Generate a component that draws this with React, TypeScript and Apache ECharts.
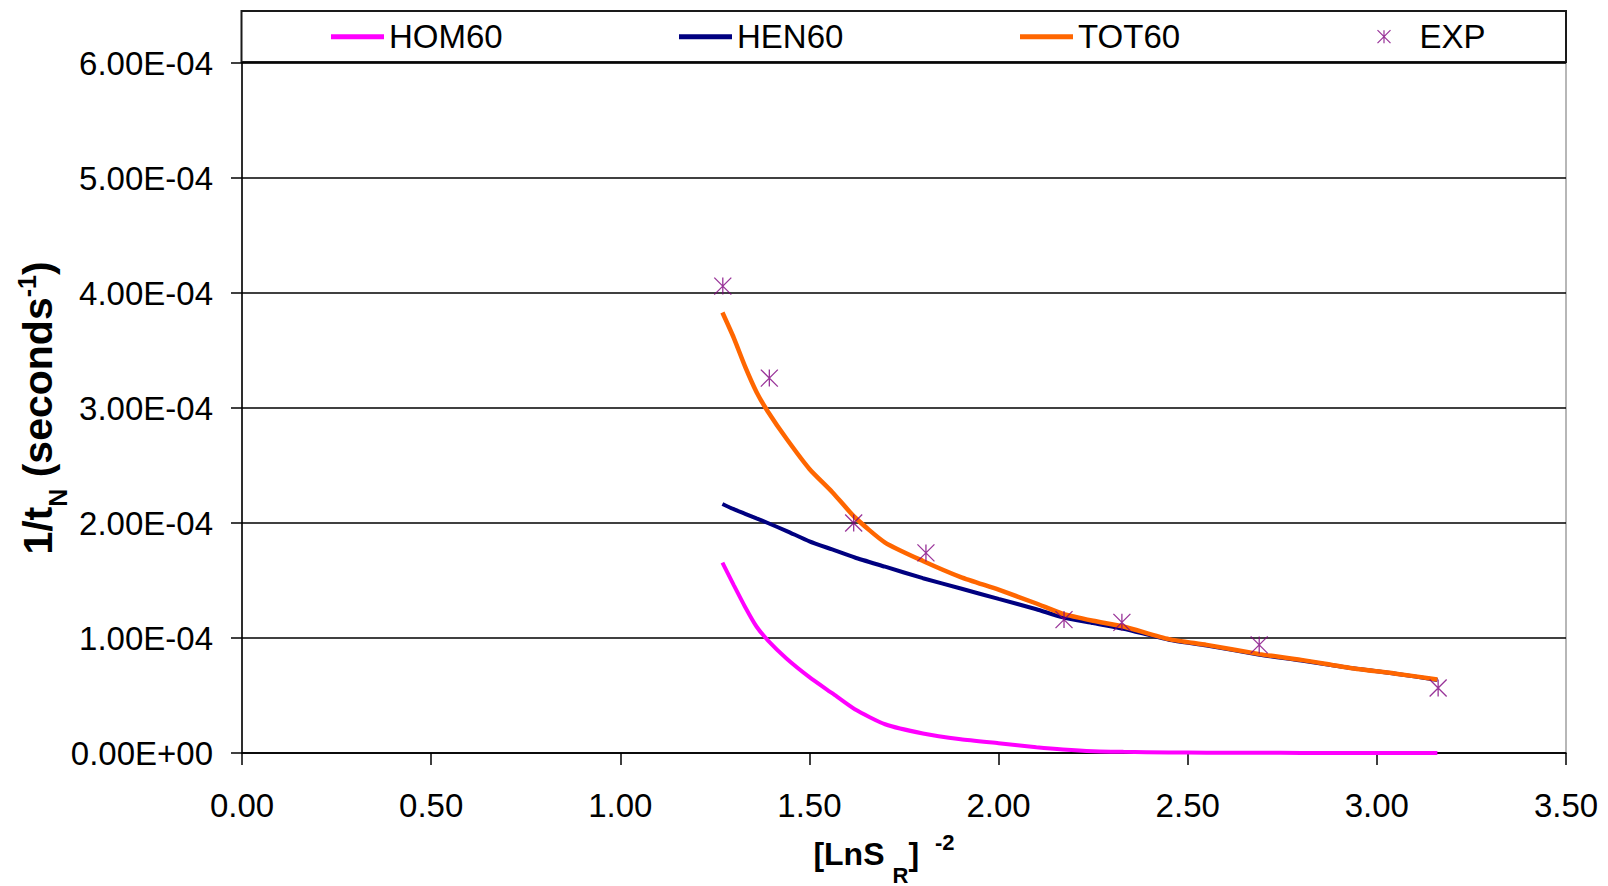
import React, { useEffect, useRef } from 'react';
import * as echarts from 'echarts';

const FONT = '"Liberation Sans", Arial, Helvetica, sans-serif';

// Model curves: x = [LnS_R]^-2, y = 1/t_N (s^-1)
const xModel = [1.27, 1.30, 1.33, 1.36, 1.39, 1.44, 1.50, 1.56, 1.62, 1.70, 1.80, 1.90, 2.00, 2.10, 2.17, 2.25, 2.33, 2.45, 2.55, 2.69, 2.80, 2.93, 3.05, 3.16];
const hom60 = [1.655e-4, 1.46e-4, 1.27e-4, 1.10e-4, 0.98e-4, 0.82e-4, 0.66e-4, 0.52e-4, 0.38e-4, 0.25e-4, 0.17e-4, 0.12e-4, 0.085e-4, 0.05e-4, 0.03e-4, 0.015e-4, 0.01e-4, 0.005e-4, 0.003e-4, 0.002e-4, 0.001e-4, 0.0005e-4, 0.0003e-4, 0.0002e-4];
const hen60 = [2.165e-4, 2.12e-4, 2.08e-4, 2.04e-4, 2.00e-4, 1.93e-4, 1.84e-4, 1.77e-4, 1.70e-4, 1.62e-4, 1.52e-4, 1.43e-4, 1.34e-4, 1.25e-4, 1.18e-4, 1.13e-4, 1.08e-4, 0.985e-4, 0.935e-4, 0.855e-4, 0.805e-4, 0.74e-4, 0.69e-4, 0.635e-4];
const tot60 = [3.83e-4, 3.61e-4, 3.36e-4, 3.14e-4, 2.97e-4, 2.73e-4, 2.47e-4, 2.27e-4, 2.05e-4, 1.83e-4, 1.67e-4, 1.53e-4, 1.42e-4, 1.30e-4, 1.21e-4, 1.15e-4, 1.10e-4, 0.99e-4, 0.94e-4, 0.86e-4, 0.81e-4, 0.74e-4, 0.69e-4, 0.64e-4];

// Experimental points
const xExp = [1.271, 1.394, 1.617, 1.808, 2.173, 2.326, 2.689, 3.162];
const yExp = [4.06e-4, 3.26e-4, 2.00e-4, 1.74e-4, 1.16e-4, 1.136e-4, 0.94e-4, 0.565e-4];

const seriesNames = ['HOM60', 'HEN60', 'TOT60', 'EXP'];
const seriesColors = ['#FF00FF', '#000080', '#FF6600', '#800080'];

const STAR = 'path://M0 0L10 10M10 0L0 10M5 0L5 10';

function sci(v: number): string {
  const [m, e] = v.toExponential(2).split('e');
  const n = parseInt(e, 10);
  return m + 'E' + (n < 0 ? '-' : '+') + String(Math.abs(n)).padStart(2, '0');
}

export default function App() {
  const ref = useRef<HTMLDivElement>(null);
  useEffect(() => {
    if (!ref.current) return;
    const chart = echarts.init(ref.current, undefined, { renderer: 'svg' });
    const pair = (ys: number[]) => xModel.map((x, i) => [x, ys[i]]);
    const legendText = { fontSize: 33, color: '#000', fontFamily: FONT, lineHeight: 34 };
    const lineLegend = (name: string, left: number, color: string) => ({
      data: [{ name, icon: 'rect', itemStyle: { color } }],
      left,
      top: 19.7,
      padding: 0,
      itemWidth: 53,
      itemHeight: 5,
      selectedMode: false,
      textStyle: legendText,
    });
    const option: any = {
      animation: false,
      backgroundColor: '#ffffff',
      textStyle: { fontFamily: FONT },
      grid: {
        left: 242,
        top: 63,
        width: 1324,
        height: 690,
        containLabel: false,
        outerBoundsMode: 'none',
        show: true,
        borderColor: '#a0a0a0',
        borderWidth: 1.5,
        backgroundColor: 'transparent',
      },
      graphic: [
        {
          type: 'rect',
          shape: { x: 241.5, y: 11, width: 1324.5, height: 51 },
          style: { fill: 'none', stroke: '#1a1a1a', lineWidth: 2 },
          silent: true,
        },
      ],
      legend: [
        lineLegend(seriesNames[0], 331, seriesColors[0]),
        lineLegend(seriesNames[1], 679, seriesColors[1]),
        lineLegend(seriesNames[2], 1020, seriesColors[2]),
        {
          data: [
            {
              name: seriesNames[3],
              icon: STAR,
              itemStyle: { color: 'none', borderColor: seriesColors[3], borderWidth: 1.2 },
            },
          ],
          left: 1375,
          top: 19.7,
          padding: 0,
          itemWidth: 13,
          itemHeight: 18,
          selectedMode: false,
          textStyle: { ...legendText, padding: [0, 0, 0, 24] },
        },
      ],
      xAxis: {
        type: 'value',
        min: 0,
        max: 3.5,
        interval: 0.5,
        axisLine: { show: true, onZero: false, lineStyle: { color: '#000', width: 1.5 } },
        axisTick: { show: true, length: 12, lineStyle: { color: '#000', width: 1.5 } },
        splitLine: { show: false },
        axisLabel: {
          margin: 36,
          fontSize: 33,
          color: '#000',
          fontFamily: FONT,
          formatter: (v: number) => v.toFixed(2),
        },
        name: '{b|[LnS}{sub|R}{b|]}{sup|-2}',
        nameLocation: 'middle',
        nameGap: 69,
        nameMoveOverlap: false,
        nameTextStyle: {
          padding: [0, 40, 0, 0],
          rich: {
            b: { fontSize: 32, fontWeight: 'bold', lineHeight: 64, color: '#000', fontFamily: FONT },
            sub: { fontSize: 22, fontWeight: 'bold', verticalAlign: 'bottom', padding: [0, 0, 0, 8], color: '#000', fontFamily: FONT },
            sup: { fontSize: 22, fontWeight: 'bold', verticalAlign: 'top', padding: [9, 0, 0, 16], color: '#000', fontFamily: FONT },
          },
        },
      },
      yAxis: {
        type: 'value',
        min: 0,
        max: 6e-4,
        interval: 1e-4,
        axisLine: { show: true, lineStyle: { color: '#000', width: 1.5 } },
        axisTick: { show: true, length: 11, lineStyle: { color: '#000', width: 1.5 } },
        splitLine: { show: true, lineStyle: { color: '#000', width: 1.5 } },
        axisLabel: {
          margin: 29,
          fontSize: 33,
          color: '#000',
          fontFamily: FONT,
          formatter: (v: number) => sci(v),
        },
        name: '{b|1/t}{sub|N}{b| (seconds}{sup|-1}{b|)}',
        nameLocation: 'middle',
        nameGap: 172,
        nameMoveOverlap: false,
        nameTextStyle: {
          rich: {
            b: { fontSize: 41, fontWeight: 'bold', lineHeight: 64, color: '#000', fontFamily: FONT },
            sub: { fontSize: 25, fontWeight: 'bold', verticalAlign: 'bottom', color: '#000', fontFamily: FONT },
            sup: { fontSize: 25, fontWeight: 'bold', verticalAlign: 'top', padding: [8, 0, 0, 0], color: '#000', fontFamily: FONT },
          },
        },
      },
      series: [
        {
          name: seriesNames[0],
          type: 'line',
          data: pair(hom60),
          symbol: 'none',
          showSymbol: false,
          smooth: 0.2,
          color: seriesColors[0],
          lineStyle: { color: seriesColors[0], width: 4 },
          z: 2,
        },
        {
          name: seriesNames[1],
          type: 'line',
          data: pair(hen60),
          symbol: 'none',
          showSymbol: false,
          smooth: 0.2,
          color: seriesColors[1],
          lineStyle: { color: seriesColors[1], width: 4 },
          z: 3,
        },
        {
          name: seriesNames[2],
          type: 'line',
          data: pair(tot60),
          symbol: 'none',
          showSymbol: false,
          smooth: 0.2,
          color: seriesColors[2],
          lineStyle: { color: seriesColors[2], width: 4.5 },
          z: 4,
        },
        {
          name: seriesNames[3],
          type: 'scatter',
          data: xExp.map((x, i) => [x, yExp[i]]),
          symbol: STAR,
          symbolSize: 17,
          itemStyle: { color: 'none', borderColor: seriesColors[3], borderWidth: 1.3 },
          z: 5,
        },
      ],
    };
    chart.setOption(option);
    return () => chart.dispose();
  }, []);
  return (
    <div
      ref={ref}
      style={{ position: 'fixed', left: 0, top: 0, width: 1608, height: 886, background: '#fff' }}
    />
  );
}
